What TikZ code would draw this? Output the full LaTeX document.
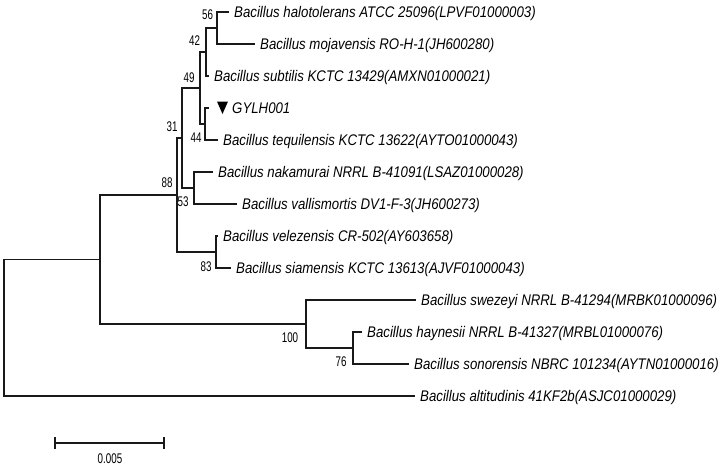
\documentclass[tikz,border=0pt]{standalone}
\usepackage{fontspec}
\usetikzlibrary{calc}
\newfontfamily\labfont[FakeStretch=0.86]{Liberation Sans}
\newfontfamily\numfont[FakeStretch=0.7]{Liberation Sans}
\begin{document}
\begin{tikzpicture}[x=1pt,y=-1pt,
  br/.style={line width=1.2pt, draw=black!90},
  leaf/.style={font=\labfont\itshape\fontsize{15.4}{15.4}\selectfont, anchor=west, inner xsep=5pt, inner ysep=0pt, text height=10.6pt, text depth=0pt},
  bs/.style={font=\numfont\fontsize{14}{14}\selectfont, inner sep=0pt}]
\useasboundingbox (0,0) rectangle (720,466);
% internal nodes
\coordinate (root) at (4,327.75);
\coordinate (nX) at (100,259.5);
\coordinate (n88) at (177,195);
\coordinate (n31) at (182,138);
\coordinate (n49) at (200,88);
\coordinate (n42) at (206,52);
\coordinate (n56) at (217,28);
\coordinate (n44) at (205,124);
\coordinate (n53) at (194,188);
\coordinate (n83) at (216,252);
\coordinate (n100) at (306,324);
\coordinate (n76) at (353,348);
% leaves
\node[leaf] (l0) at (229,12) {Bacillus halotolerans ATCC 25096(LPVF01000003)};
\node[leaf] (l1) at (255,44) {Bacillus mojavensis RO-H-1(JH600280)};
\node[leaf] (l2) at (209,76) {Bacillus subtilis KCTC 13429(AMXN01000021)};
\node[leaf] (l3) at (209,108) {\hspace{18pt}GYLH001};
\node[leaf] (l4) at (218,140) {Bacillus tequilensis KCTC 13622(AYTO01000043)};
\node[leaf] (l5) at (213,172) {Bacillus nakamurai NRRL B-41091(LSAZ01000028)};
\node[leaf] (l6) at (237,204) {Bacillus vallismortis DV1-F-3(JH600273)};
\node[leaf] (l7) at (218,236) {Bacillus velezensis CR-502(AY603658)};
\node[leaf] (l8) at (231,268) {Bacillus siamensis KCTC 13613(AJVF01000043)};
\node[leaf] (l9) at (416,300) {Bacillus swezeyi NRRL B-41294(MRBK01000096)};
\node[leaf] (l10) at (362,332) {Bacillus haynesii NRRL B-41327(MRBL01000076)};
\node[leaf] (l11) at (409,364) {Bacillus sonorensis NBRC 101234(AYTN01000016)};
\node[leaf] (l12) at (415,396) {Bacillus altitudinis 41KF2b(ASJC01000029)};
% marker
\fill ($(l3.west)+(8,-6.5)$) -- ++(11,0) -- ++(-5.5,12.5) -- cycle;
% branches
\draw[br] (root) |- (nX);
\draw[br] (root) |- (l12.west);
\draw[br] (nX) |- (n88);
\draw[br] (nX) |- (n100);
\draw[br] (n88) |- (n31);
\draw[br] (n88) |- (n83);
\draw[br] (n31) |- (n49);
\draw[br] (n31) |- (n53);
\draw[br] (n49) |- (n42);
\draw[br] (n49) |- (n44);
\draw[br] (n42) |- (n56);
\draw[br] (n42) |- (l2.west);
\draw[br] (n56) |- (l0.west);
\draw[br] (n56) |- (l1.west);
\draw[br] (n44) |- (l3.west);
\draw[br] (n44) |- (l4.west);
\draw[br] (n53) |- (l5.west);
\draw[br] (n53) |- (l6.west);
\draw[br] (n83) |- (l7.west);
\draw[br] (n83) |- (l8.west);
\draw[br] (n100) |- (l9.west);
\draw[br] (n100) |- (n76);
\draw[br] (n76) |- (l10.west);
\draw[br] (n76) |- (l11.west);
% bootstrap values
\node[bs] (b56) at (207.5,15) {56};
\node[bs] (b42) at (194.5,41) {42};
\node[bs] (b49) at (189,77.5) {49};
\node[bs] (b31) at (172,127) {31};
\node[bs] (b44) at (196,138) {44};
\node[bs] (b88) at (167,183) {88};
\node[bs] (b53) at (183,202) {53};
\node[bs] (b83) at (206,267) {83};
\node[bs] (b100) at (290,338) {100};
\node[bs] (b76) at (341,362) {76};
% scale bar
\coordinate (s1) at (55,443);
\coordinate (s2) at (164,443);
\draw[br] (s1) -- (s2);
\draw[br] ($(s1)+(0,-6)$) -- ($(s1)+(0,6)$);
\draw[br] ($(s2)+(0,-6)$) -- ($(s2)+(0,6)$);
\node[bs] (sl) at (110,459) {0.005};
\end{tikzpicture}
\end{document}
